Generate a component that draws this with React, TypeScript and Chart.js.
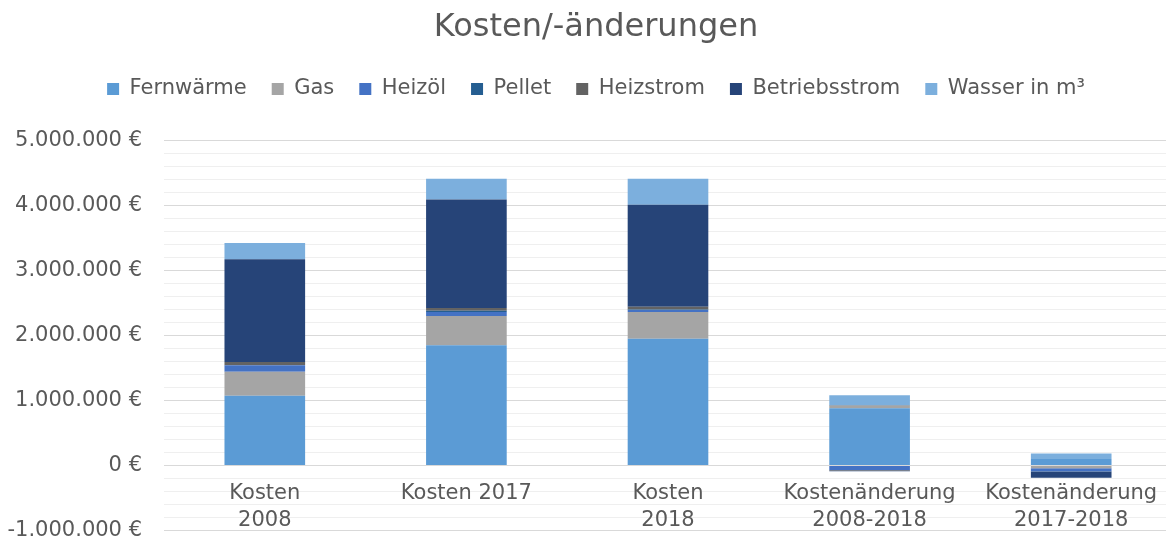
import React, { useEffect, useRef } from 'react';
import { Chart, registerables } from 'chart.js';

Chart.register(...registerables);

const categories: (string | string[])[] = [
  ['Kosten', '2008'],
  'Kosten 2017',
  ['Kosten', '2018'],
  ['Kostenänderung', '2008-2018'],
  ['Kostenänderung', '2017-2018'],
];

const seriesNames = ['Fernwärme', 'Gas', 'Heizöl', 'Pellet', 'Heizstrom', 'Betriebsstrom', 'Wasser in m³'];

const fernwaerme = [1070000, 1850000, 1950000, 880000, 100000];
const gas = [370000, 450000, 410000, 40000, -45000];
const heizoel = [100000, 60000, 30000, -70000, -45000];
const pellet = [0, 20000, 10000, 10000, -5000];
const heizstrom = [50000, 40000, 40000, -10000, 0];
const betriebsstrom = [1580000, 1670000, 1570000, -10000, -95000];
const wasser = [250000, 320000, 400000, 150000, 85000];

const seriesValues = [fernwaerme, gas, heizoel, pellet, heizstrom, betriebsstrom, wasser];
const seriesColors = ['#5B9BD5', '#A5A5A5', '#4472C4', '#255E91', '#636363', '#264478', '#7CAFDD'];

const yMin = -1000000;
const yMax = 5000000;
const yStep = 200000;
const yMajor = 1000000;

const textColor = '#595959';
const fontFamily = 'DejaVu Sans';

const CANVAS_W = 1192;
const CANVAS_H = 565;

function formatEuro(v: number): string {
  const r = Math.round(v);
  const s = Math.abs(r).toString().replace(/\B(?=(\d{3})+(?!\d))/g, '.');
  return (r < 0 ? '-' : '') + s + ' €';
}

const legendSpacing = {
  id: 'legendSpacing',
  beforeLayout(chart: any) {
    const legend = chart.legend;
    if (!legend || legend.__patched) return;
    const orig = legend.fit;
    legend.fit = function () {
      orig.call(this);
      this.height += 31;
    };
    legend.__patched = true;
  },
};

export default function App() {
  const canvasRef = useRef<HTMLCanvasElement | null>(null);

  useEffect(() => {
    document.documentElement.style.overflow = 'hidden';
    document.body.style.overflow = 'hidden';
    const canvas = canvasRef.current;
    if (!canvas) return;
    const chart = new Chart(canvas, {
      type: 'bar',
      data: {
        labels: categories as any,
        datasets: seriesNames.map((name, i) => ({
          label: name,
          data: seriesValues[i],
          backgroundColor: seriesColors[i],
          borderWidth: 0,
          barPercentage: 0.4,
          categoryPercentage: 1,
        })),
      },
      options: {
        animation: false,
        responsive: false,
        devicePixelRatio: 1,
        layout: { padding: { left: 0, right: 0, top: 0, bottom: 0 } },
        plugins: {
          title: {
            display: true,
            text: 'Kosten/-änderungen',
            color: textColor,
            font: { family: fontFamily, size: 32, weight: 'normal' },
            padding: { top: 8, bottom: 7 },
          },
          legend: {
            display: true,
            position: 'top',
            labels: {
              boxWidth: 12,
              boxHeight: 12,
              padding: 25,
              color: textColor,
              font: { family: fontFamily, size: 21 },
            },
          },
          tooltip: { enabled: false },
        },
        scales: {
          x: {
            axis: 'x',
            stacked: true,
            position: { y: 0 } as any,
            grid: { display: false, drawTicks: false },
            border: { display: true, color: '#d9d9d9', width: 1 },
            ticks: {
              color: textColor,
              font: { family: fontFamily, size: 21, lineHeight: 1.3 },
              padding: 14,
              maxRotation: 0,
              minRotation: 0,
              autoSkip: false,
            },
          },
          y: {
            stacked: true,
            position: 'left',
            min: yMin,
            max: yMax,
            grid: {
              drawTicks: false,
              lineWidth: 1,
              color: (ctx: any) => {
                const v = ctx.tick ? ctx.tick.value : 0;
                return Math.round(v) % yMajor === 0 ? '#d9d9d9' : '#efefef';
              },
            },
            border: { display: false },
            ticks: {
              stepSize: yStep,
              autoSkip: false,
              padding: 22,
              color: textColor,
              font: { family: fontFamily, size: 21 },
              callback: (value: any) => {
                const v = Math.round(Number(value));
                return v % yMajor === 0 ? formatEuro(v) : '';
              },
            },
            afterFit: (scale: any) => {
              scale.width = 164;
            },
          },
          yRight: {
            type: 'linear',
            position: 'right',
            display: true,
            grid: { display: false, drawTicks: false },
            border: { display: false },
            ticks: { display: false },
            afterFit: (scale: any) => {
              scale.width = 20;
            },
          },
        },
      },
      plugins: [legendSpacing],
    });
    return () => chart.destroy();
  }, []);

  return (
    <div style={{ position: 'fixed', left: 0, top: 0, width: CANVAS_W, height: CANVAS_H, background: '#ffffff' }}>
      <canvas ref={canvasRef} width={CANVAS_W} height={CANVAS_H} style={{ display: 'block' }} />
    </div>
  );
}
